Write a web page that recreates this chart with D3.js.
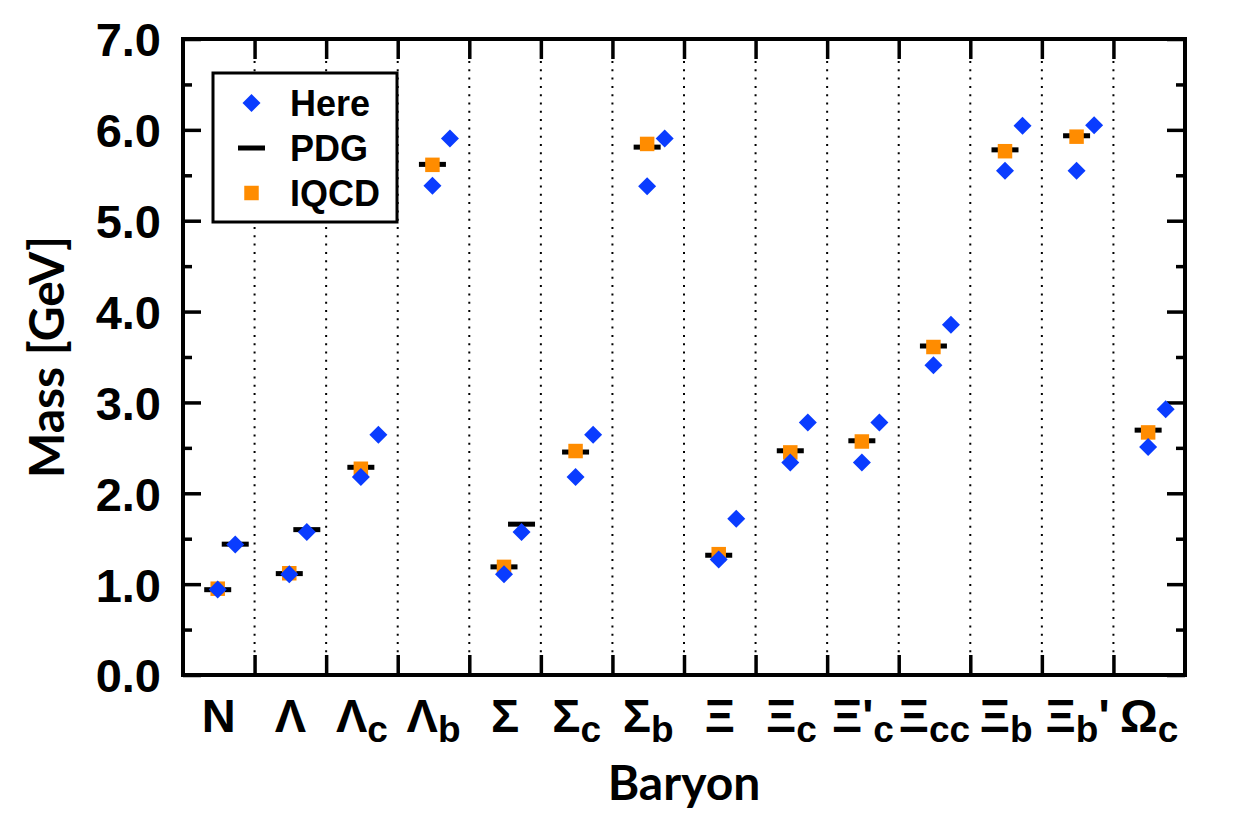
<!DOCTYPE html>
<html>
<head>
<meta charset="utf-8">
<script src="https://cdn.jsdelivr.net/npm/d3@7"></script>
<style>
  body { margin: 0; background: #fff; }
  svg { display: block; }
</style>
</head>
<body>
<div id="chart"></div>
<script>
// baryon labels: base glyph, subscript, trailing prime
var baryons = ["N", "Λ", "Λc", "Λb", "Σ", "Σc", "Σb", "Ξ", "Ξc", "Ξ'c", "Ξcc", "Ξb", "Ξb'", "Ωc"];
var labelBase = ["N", "Λ", "Λ", "Λ", "Σ", "Σ", "Σ", "Ξ", "Ξ", "Ξ'", "Ξ", "Ξ", "Ξ", "Ω"];
var labelSub = ["", "", "c", "b", "", "c", "b", "", "c", "c", "cc", "b", "b", "c"];
var labelTail = ["", "", "", "", "", "", "", "", "", "", "", "", "'", ""];

// masses in GeV
var hereLow  = [0.94, 1.11, 2.18, 5.385, 1.11, 2.18, 5.38, 1.27, 2.34, 2.34, 3.41, 5.55, 5.55, 2.51];
var hereHigh = [1.435, 1.575, 2.645, 5.905, 1.575, 2.645, 5.905, 1.72, 2.78, 2.78, 3.855, 6.045, 6.05, 2.925];
var pdgLow   = [0.939, 1.116, 2.286, 5.62, 1.19, 2.454, 5.81, 1.318, 2.468, 2.578, 3.621, 5.78, 5.935, 2.695];
var pdgHigh  = [1.44, 1.60, null, null, 1.66, null, null, null, null, null, null, null, null, null];
var lqcd     = [0.95, 1.12, 2.27, 5.615, 1.19, 2.465, 5.845, 1.33, 2.45, 2.57, 3.61, 5.765, 5.925, 2.67];

var yTicks = [0, 1, 2, 3, 4, 5, 6, 7];
var yMinor = [0.5, 1.5, 2.5, 3.5, 4.5, 5.5, 6.5];

var W = 1250, H = 834;
var m = { left: 183, right: 65, top: 39, bottom: 159 };
var iw = W - m.left - m.right, ih = H - m.top - m.bottom;

var tickFont = "'Liberation Sans', Arial, sans-serif";
var titleFont = "Lato, 'Open Sans', sans-serif";
var blue = "#0a3cff", orange = "#ff8c00";

var svg = d3.select("#chart").append("svg")
    .attr("width", W)
    .attr("height", H);

var g = svg.append("g").attr("transform", "translate(" + m.left + "," + m.top + ")");

var x = d3.scaleBand().domain(baryons).range([0, iw]).padding(0);
var side = d3.scalePoint().domain(["low", "high"]).range([x.bandwidth() * 0.485, x.bandwidth() * 0.73]);
var y = d3.scaleLinear().domain([0, 7]).range([ih, 0]);

// dotted separators between baryons
var bounds = baryons.slice(1).map(function (b) { return x(b); });
g.selectAll("line.sep").data(bounds).enter().append("line")
    .attr("class", "sep")
    .attr("x1", function (d) { return d; }).attr("x2", function (d) { return d; })
    .attr("y1", 22).attr("y2", ih - 22)
    .attr("stroke", "#000").attr("stroke-width", 2)
    .attr("stroke-dasharray", "2 6.3");

// y axes, left and right, ticks inward
function yAxisDraw(axisFn, xpos, fmt) {
  var major = g.append("g").attr("transform", "translate(" + xpos + ",0)")
      .call(axisFn(y).tickValues(yTicks).tickSize(-18).tickPadding(22).tickFormat(fmt));
  var minor = g.append("g").attr("transform", "translate(" + xpos + ",0)")
      .call(axisFn(y).tickValues(yMinor).tickSize(-9).tickFormat(""));
  [major, minor].forEach(function (a) {
    a.select(".domain").remove();
    a.selectAll(".tick line").attr("stroke", "#000").attr("stroke-width", 3.5);
  });
  return major;
}
var yl = yAxisDraw(d3.axisLeft, 0, d3.format(".1f"));
yl.selectAll(".tick text")
    .attr("font-family", tickFont).attr("font-weight", "bold")
    .attr("font-size", 47).attr("fill", "#000").attr("dy", "0.36em");
yAxisDraw(d3.axisRight, iw, "");

// x axes: ticks at category boundaries, inward
var xb = g.append("g").attr("transform", "translate(0," + ih + ")")
    .call(d3.axisBottom(d3.scaleIdentity()).tickValues(bounds).tickSize(-20).tickFormat(""));
var xt = g.append("g")
    .call(d3.axisTop(d3.scaleIdentity()).tickValues(bounds).tickSize(-20).tickFormat(""));
[xb, xt].forEach(function (a) {
  a.select(".domain").remove();
  a.selectAll(".tick line").attr("stroke", "#000").attr("stroke-width", 3.5);
});

// category labels with subscripts
var lab = g.append("g").selectAll("text").data(baryons).enter().append("text")
    .attr("x", function (d) { return x(d) + x.bandwidth() / 2; })
    .attr("y", ih + 57)
    .attr("text-anchor", "middle")
    .attr("font-family", tickFont).attr("font-weight", "bold")
    .attr("font-size", 47).attr("fill", "#000");
lab.append("tspan").text(function (d, i) { return labelBase[i]; });
lab.append("tspan")
    .attr("font-size", 37).attr("dy", function (d, i) { return labelSub[i] ? 10 : 0; })
    .text(function (d, i) { return labelSub[i]; });
lab.append("tspan")
    .attr("dy", function (d, i) { return labelSub[i] ? -10 : 0; })
    .text(function (d, i) { return labelTail[i]; });

// frame
g.append("rect").attr("width", iw).attr("height", ih)
    .attr("fill", "none").attr("stroke", "#000").attr("stroke-width", 4);

// marks
var diamond = d3.symbol().type(d3.symbolSquare).size(162);
var square = d3.symbol().type(d3.symbolSquare).size(210);

var pdgRows = [];
baryons.forEach(function (b, i) {
  pdgRows.push({ b: b, s: "low", v: pdgLow[i] });
  if (pdgHigh[i] != null) pdgRows.push({ b: b, s: "high", v: pdgHigh[i] });
});

g.selectAll("rect.pdg").data(pdgRows).enter().append("rect")
    .attr("class", "pdg")
    .attr("x", function (d) { return x(d.b) + side(d.s) - 13.5; })
    .attr("y", function (d) { return y(d.v) - 2.5; })
    .attr("width", 27).attr("height", 5)
    .attr("fill", "#000");

g.selectAll("path.lqcd").data(baryons).enter().append("path")
    .attr("class", "lqcd")
    .attr("d", square)
    .attr("transform", function (d, i) { return "translate(" + (x(d) + side("low")) + "," + y(lqcd[i]) + ")"; })
    .attr("fill", orange);

var hereRows = [];
baryons.forEach(function (b, i) {
  hereRows.push({ b: b, s: "low", v: hereLow[i] });
  hereRows.push({ b: b, s: "high", v: hereHigh[i] });
});
g.selectAll("path.here").data(hereRows).enter().append("path")
    .attr("class", "here")
    .attr("d", diamond)
    .attr("transform", function (d) { return "translate(" + (x(d.b) + side(d.s)) + "," + y(d.v) + ") rotate(45)"; })
    .attr("fill", blue);

// legend
var lg = svg.append("g").attr("transform", "translate(213,73)");
lg.append("rect").attr("width", 184).attr("height", 149)
    .attr("fill", "#fff").attr("stroke", "#000").attr("stroke-width", 3);
var entries = ["Here", "PDG", "IQCD"];
var ly = d3.scalePoint().domain(entries).range([30, 120]);
lg.append("path").attr("d", diamond)
    .attr("transform", "translate(38.5," + ly("Here") + ") rotate(45)").attr("fill", blue);
lg.append("rect").attr("x", 25).attr("y", ly("PDG") - 2.5).attr("width", 27).attr("height", 5).attr("fill", "#000");
lg.append("path").attr("d", square)
    .attr("transform", "translate(38.5," + ly("IQCD") + ")").attr("fill", orange);
lg.selectAll("text").data(entries).enter().append("text")
    .attr("x", 77).attr("y", function (d) { return ly(d); }).attr("dy", "0.36em")
    .attr("font-family", tickFont).attr("font-weight", "bold").attr("font-size", 36)
    .text(function (d) { return d; });

// axis titles
svg.append("text")
    .attr("x", m.left + iw / 2).attr("y", 800)
    .attr("text-anchor", "middle")
    .attr("font-family", titleFont).attr("font-weight", "bold").attr("font-size", 48)
    .text("Baryon");
svg.append("text")
    .attr("transform", "translate(64," + (m.top + ih / 2) + ") rotate(-90)")
    .attr("text-anchor", "middle")
    .attr("font-family", titleFont).attr("font-weight", "bold").attr("font-size", 48)
    .text("Mass [GeV]");
</script>
</body>
</html>
